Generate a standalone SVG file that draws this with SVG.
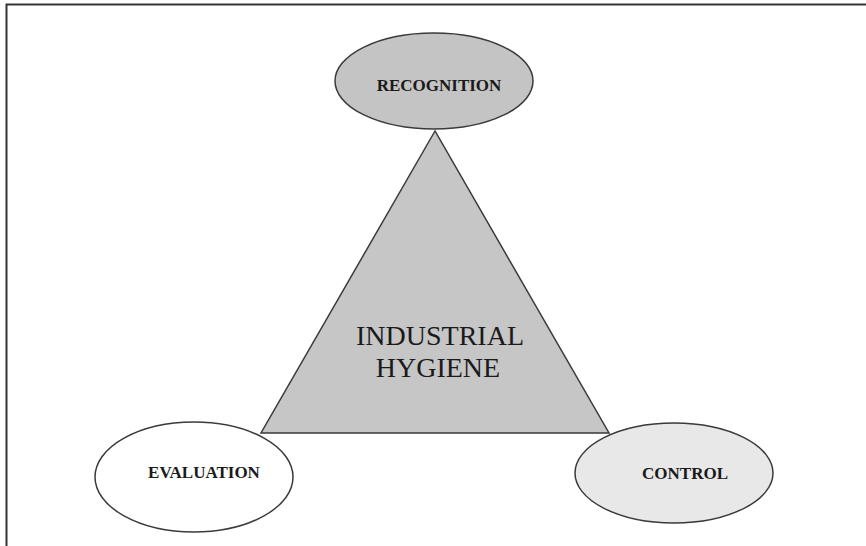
<svg xmlns="http://www.w3.org/2000/svg" width="866" height="546" viewBox="0 0 866 546">
<style>
.node { stroke: #3a3a3a; stroke-width: 1.5; }
.lbl { font-family: "Liberation Serif", "DejaVu Serif", serif; font-weight: bold; font-size: 17px; fill: #1a1a1a; text-anchor: middle; }
.big { font-family: "Liberation Serif", "DejaVu Serif", serif; font-size: 28px; fill: #1a1a1a; text-anchor: middle; }
</style>
<rect x="0" y="0" width="866" height="546" fill="#ffffff"/>
<path d="M6.5 546 V4.5 H866" fill="none" stroke="#333" stroke-width="2"/>
<g id="triangle">
<polygon class="node" points="435,131 261,433 609,433" fill="#c6c6c6"/>
<text class="big" x="440" y="345">INDUSTRIAL</text>
<text class="big" x="438" y="377">HYGIENE</text>
</g>
<g id="recognition">
<ellipse class="node" cx="434" cy="81" rx="99" ry="48" fill="#c4c4c4"/>
<text class="lbl" x="439" y="91">RECOGNITION</text>
</g>
<g id="evaluation">
<ellipse class="node" cx="194" cy="477" rx="99" ry="55" fill="#ffffff"/>
<text class="lbl" x="204" y="478">EVALUATION</text>
</g>
<g id="control">
<ellipse class="node" cx="674" cy="473" rx="99" ry="50" fill="#e8e8e8"/>
<text class="lbl" x="685" y="479">CONTROL</text>
</g>
<g id="connectors"></g>
</svg>
